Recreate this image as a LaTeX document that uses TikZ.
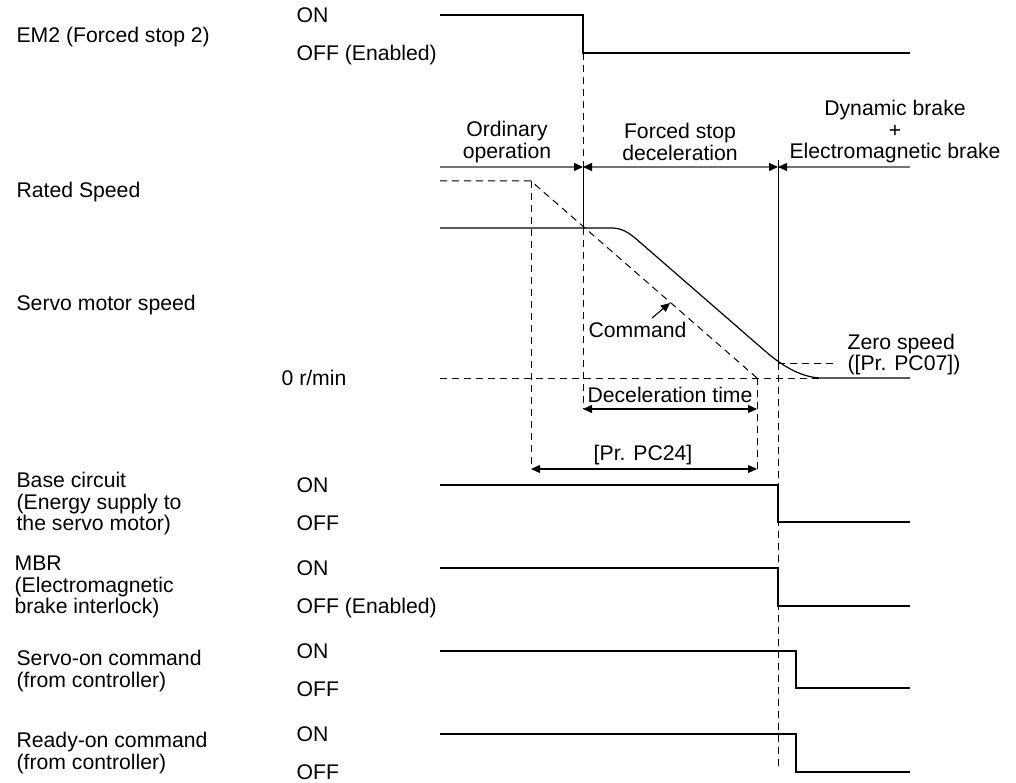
\documentclass[tikz,border=0pt]{standalone}
\usepackage{fontspec}
\setmainfont{Liberation Sans}
\usepackage{tikz}
\usetikzlibrary{
    arrows.meta
}

\begin{document}
\begin{tikzpicture}[
x=1pt, y=-1pt,
font=\fontsize{21.2}{21.5}\selectfont,
line width=1.2pt,
>={Triangle[length=9pt,width=8pt,color=black]},
lbl/.style={
anchor=west,
inner sep=0pt,
text height=15pt,
text depth=0pt
},
mlbl/.style={
anchor=west,
inner sep=0pt,
align=left
},
phase/.style={
align=center,
inner sep=0pt
},
sig/.style={
line width=1.2pt
},
guide/.style={
line width=1pt,
dash pattern=on 7pt off 5pt
},
phaseline/.style={
black!55,
line width=1.5pt
},
dim/.style={
line width=1.1pt,
<->
}
]

\useasboundingbox (0,0) rectangle (1016,783);

% signal names
\node[lbl] (em2) at (16,35) {EM2 (Forced stop 2)};
\node[lbl] (rated) at (16,190) {Rated Speed};
\node[lbl] (speed) at (16,303) {Servo motor speed};
\node[mlbl] (base) at (16,504)
{Base circuit\\(Energy supply to\\the servo motor)};
\node[mlbl] (mbr) at (14,587)
{MBR\\(Electromagnetic\\brake interlock)};
\node[mlbl] (son) at (16,671)
{Servo-on command\\(from controller)};
\node[mlbl] (rdy) at (16,753)
{Ready-on command\\(from controller)};

% levels
\node[lbl] (em2on) at (296,15) {ON};
\node[lbl] (em2off) at (296,53) {OFF (Enabled)};
\node[lbl] (zero) at (281,378) {0 r/min};
\node[lbl] (baseon) at (296,485) {ON};
\node[lbl] (baseoff) at (296,523) {OFF};
\node[lbl] (mbron) at (296,568) {ON};
\node[lbl] (mbroff) at (296,606) {OFF (Enabled)};
\node[lbl] (sonon) at (296,651) {ON};
\node[lbl] (sonoff) at (296,689) {OFF};
\node[lbl] (rdyon) at (296,734) {ON};
\node[lbl] (rdyoff) at (296,772) {OFF};

% phases
\node[phase] (ordinary) at (507,142) {Ordinary\\operation};
\node[phase] (forced) at (680,142) {Forced stop\\deceleration};
\node[phase] (dynamic) at (895,132)
{Dynamic brake\\+\\Electromagnetic brake};

\coordinate (p0) at (440,167);
\coordinate (p1) at (583,167);
\coordinate (p2) at (778,167);
\coordinate (p3) at (910,167);

\draw[phaseline, ->] (p0) -- (p1);
\draw[phaseline, <->] (p1) -- (p2);
\draw[phaseline, <-] (p2) -- (p3);

% waveforms
\draw[sig] (440,15) -- (583,15) -- (583,53) -- (910,53);
\draw[sig] (440,485) -- (778,485) -- (778,522) -- (910,522);
\draw[sig] (440,568) -- (778,568) -- (778,606) -- (910,606);
\draw[sig] (440,651) -- (796,651) -- (796,688) -- (910,688);
\draw[sig] (440,734) -- (796,734) -- (796,772) -- (910,772);

% speed
\draw[sig] (440,228) -- (612,228)
.. controls (625,228) and (633,236.2) .. (645,246.6)
-- (765,351)
.. controls (779,363.2) and (800,378) .. (822,378)
-- (910,378);
\draw[guide] (440,181) -- (531,181) -- (757,378);
\draw[guide] (440,378) -- (822,378);
\draw[guide] (778,363) -- (838,363);

% timing lines
\draw[guide] (583,53) -- (583,167);
\draw[line width=1pt] (583,167) -- (583,228);
\draw[guide] (583,228) -- (583,409);
\draw[line width=1pt] (778,160) -- (778,363);
\draw[guide] (778,363) -- (778,767);
\draw[guide] (531,181) -- (531,469);
\draw[guide] (757,378) -- (757,469);

\node[lbl] (cmd) at (588,330) {Command};
\node[lbl] (pc07) at (847,342) {Zero speed};
\node[lbl] (pc07b) at (847,363) {([Pr. PC07])};
\node[phase] (decel) at (670,395) {Deceleration time};
\node[phase] (pc24) at (643,455) {[Pr. PC24]};

\coordinate (cmdtail) at (652,318);
\coordinate (cmdhead) at (670,303);
\coordinate (d0) at (583,409);
\coordinate (d1) at (757,409);
\coordinate (t0) at (531,469);
\coordinate (t1) at (757,469);

\draw[line width=1.1pt, ->] (cmdtail) -- (cmdhead);
\draw[dim] (d0) -- (d1);
\draw[dim] (t0) -- (t1);

\end{tikzpicture}
\end{document}
